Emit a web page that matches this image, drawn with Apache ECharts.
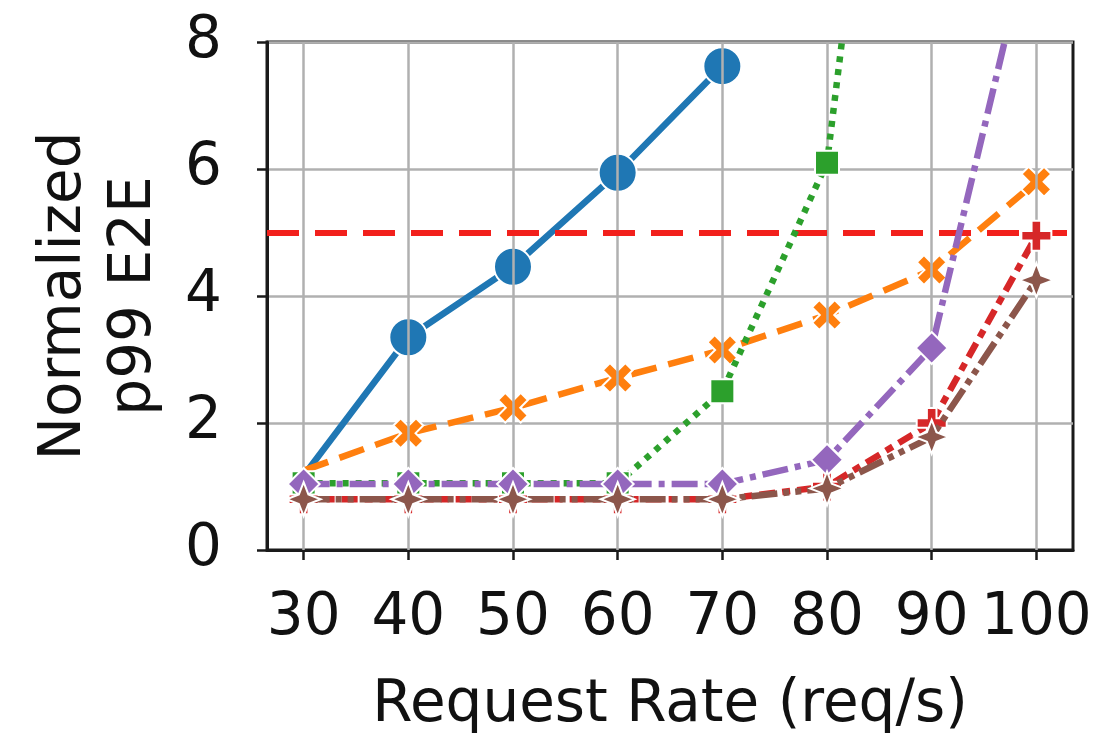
<!DOCTYPE html>
<html>
<head>
<meta charset="utf-8">
<script src="https://cdn.jsdelivr.net/npm/echarts@6/dist/echarts.min.js"></script>
<style>html,body{margin:0;padding:0;background:#fff}#c{width:1096px;height:738px}</style>
</head>
<body>
<div id="c"></div>
<script>
const rates = [30, 40, 50, 60, 70, 80, 90, 100];
const xTicks = [30, 40, 50, 60, 70, 80, 90, 100];
const yTicks = [0, 2, 4, 6, 8];
const sloLevel = 5;

const blueVals   = [1.17, 3.35, 4.46, 5.94, 7.62, null, null, null];
const orangeVals = [1.25, 1.84, 2.24, 2.71, 3.15, 3.70, 4.41, 5.80];
const greenVals  = [1.05, 1.05, 1.05, 1.05, 2.50, 6.10, 19.5, null];
const redVals    = [0.80, 0.80, 0.80, 0.80, 0.80, 1.00, 2.00, 4.95];
const purpleVals = [1.04, 1.04, 1.04, 1.04, 1.04, 1.42, 3.18, 10.1];
const brownVals  = [0.80, 0.80, 0.80, 0.80, 0.80, 0.97, 1.78, 4.25];

const PLUS = 'path://M-0.32,-1 L0.32,-1 L0.32,-0.32 L1,-0.32 L1,0.32 L0.32,0.32 L0.32,1 L-0.32,1 L-0.32,0.32 L-1,0.32 L-1,-0.32 L-0.32,-0.32 Z';
const STAR4 = 'path://M0,-1 L0.28,-0.28 L1,0 L0.28,0.28 L0,1 L-0.28,0.28 L-1,0 L-0.28,-0.28 Z';
const FONT = 'DejaVu Sans';

function mk(name, vals, color, symbol, size, dash, opts) {
  opts = opts || {};
  const data = rates.map((r, i) => {
    const item = { value: [r, vals[i]] };
    if (opts.hideFirst && i === 0) item.symbol = 'none';
    return item;
  });
  return {
    name, type: 'line', data, connectNulls: false,
    symbol, symbolSize: size, symbolRotate: opts.rotate || 0,
    showAllSymbol: true, clip: true, z: opts.z || 3,
    lineStyle: { color, width: 6.5, type: dash, cap: 'butt' },
    itemStyle: { color, borderColor: '#fff', borderWidth: 2 },
    emphasis: { disabled: true }
  };
}

const gridSeries = {
  type: 'line', data: [], z: 1, silent: true,
  markLine: {
    silent: true, symbol: 'none', label: { show: false },
    lineStyle: { color: '#b0b0b0', width: 2.5, type: 'solid' },
    animation: false,
    data: xTicks.map(v => ({ xAxis: v }))
  }
};

const sloSeries = {
  type: 'line', data: [], z: 10, silent: true,
  markLine: {
    silent: true, symbol: 'none', label: { show: false },
    lineStyle: { color: '#f2201c', width: 6, type: [32, 16] },
    animation: false,
    data: [{ yAxis: sloLevel }]
  }
};

const chart = echarts.init(document.getElementById('c'));
chart.setOption({
  animation: false,
  backgroundColor: '#fff',
  grid: { left: 267, right: 23, top: 42, bottom: 188, outerBoundsMode: 'none', containLabel: false,
          show: true, borderColor: '#1a1a1a', borderWidth: 3, backgroundColor: 'transparent' },
  xAxis: {
    type: 'value', min: 26.5, max: 103.5,
    name: 'Request Rate (req/s)', nameLocation: 'middle', nameGap: 127, nameMoveOverlap: false,
    nameTextStyle: { fontFamily: FONT, fontSize: 58, color: '#111' },
    axisLine: { show: true, onZero: false, lineStyle: { color: '#1a1a1a', width: 3 } },
    axisTick: { show: true, inside: false, length: 10, lineStyle: { color: '#1a1a1a', width: 2.5 }, customValues: xTicks },
    axisLabel: { customValues: xTicks, fontFamily: FONT, fontSize: 58, color: '#111', margin: 40 },
    splitLine: { show: false }
  },
  yAxis: {
    type: 'value', min: yTicks[0], max: yTicks[yTicks.length - 1], interval: 2,
    name: 'Normalized\np99 E2E', nameLocation: 'middle', nameGap: 97, nameMoveOverlap: false,
    nameTextStyle: { fontFamily: FONT, fontSize: 58, color: '#111', lineHeight: 70 },
    axisLine: { show: true, lineStyle: { color: '#1a1a1a', width: 3 } },
    axisTick: { show: true, length: 10, lineStyle: { color: '#1a1a1a', width: 2.5 } },
    axisLabel: { fontFamily: FONT, fontSize: 58, color: '#111', margin: 45 },
    splitLine: { show: true, lineStyle: { color: '#b0b0b0', width: 2.5 } }
  },
  series: [
    gridSeries,
    mk('blue', blueVals, '#1f77b4', 'circle', 38, 'solid', { hideFirst: true, z: 3 }),
    mk('orange', orangeVals, '#ff7f0e', PLUS, 32, [26, 12], { hideFirst: true, rotate: 45, z: 4 }),
    mk('green', greenVals, '#2ca02c', 'rect', 24, [6, 7], { z: 5 }),
    mk('red', redVals, '#d62728', PLUS, 30, [16, 7, 8, 7], { z: 6 }),
    mk('purple', purpleVals, '#9467bd', 'diamond', 32, [26, 7, 6, 7], { z: 7 }),
    mk('brown', brownVals, '#8c564b', STAR4, 34, [26, 6, 6, 6, 6, 6], { z: 8 }),
    sloSeries
  ]
});
</script>
</body>
</html>
